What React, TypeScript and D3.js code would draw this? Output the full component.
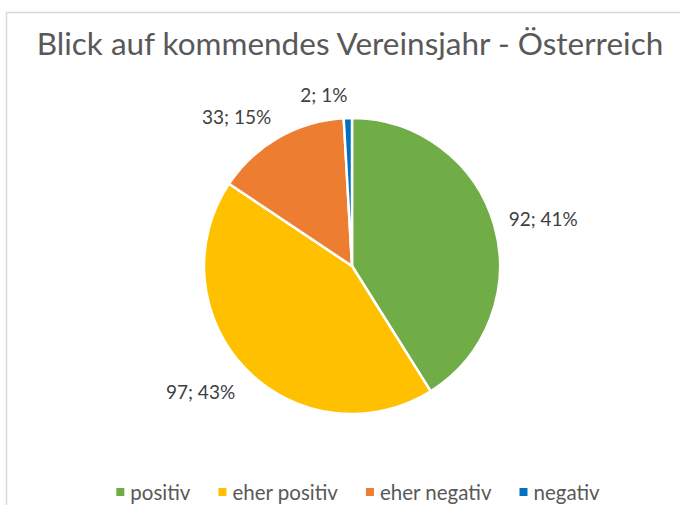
import React, { useEffect, useRef } from "react";
import * as d3 from "d3";

const title = "Blick auf kommendes Vereinsjahr - Österreich";
const categories = ["positiv", "eher positiv", "eher negativ", "negativ"];
const values = [92, 97, 33, 2];
const colors = ["#70AD47", "#FFC000", "#ED7D31", "#0070C0"];

const W = 680;
const H = 505;
const FONT = "Lato, 'Open Sans', sans-serif";

export default function App() {
  const ref = useRef<SVGSVGElement>(null);

  useEffect(() => {
    const svg = d3.select(ref.current);
    svg.selectAll("*").remove();

    svg.append("rect").attr("width", W).attr("height", H).attr("fill", "#fff");
    svg
      .append("rect")
      .attr("x", 6.5)
      .attr("y", 12.5)
      .attr("width", W + 20)
      .attr("height", H + 20)
      .attr("fill", "#fff")
      .attr("stroke", "#d9d9d9")
      .attr("stroke-width", 1.5);

    svg
      .append("text")
      .attr("x", 350)
      .attr("y", 55)
      .attr("text-anchor", "middle")
      .attr("font-family", FONT)
      .attr("font-size", 31.5)
      .attr("fill", "#595959")
      .text(title);

    const cx = 352;
    const cy = 266;
    const r = 148;
    const total = d3.sum(values);

    const pie = d3
      .pie<number>()
      .sort(null)
      .value((d) => d);
    const arcs = pie(values);
    const arc = d3.arc<d3.PieArcDatum<number>>().innerRadius(0).outerRadius(r);

    const g = svg.append("g").attr("transform", `translate(${cx},${cy})`);
    g.selectAll("path")
      .data(arcs)
      .join("path")
      .attr("d", arc as any)
      .attr("fill", (_, i) => colors[i])
      .attr("stroke", "#fff")
      .attr("stroke-width", 2.5)
      .attr("stroke-linejoin", "round");

    // labels
    arcs.forEach((a, i) => {
      const mid = (a.startAngle + a.endAngle) / 2;
      const dx = Math.sin(mid);
      const dy = -Math.cos(mid);
      const pct = Math.round((values[i] / total) * 100);
      const t = g
        .append("text")
        .attr("font-family", FONT)
        .attr("font-size", 19)
        .attr("fill", "#404040")
        .attr("text-anchor", "middle")
        .attr("dominant-baseline", "central")
        .text(`${values[i]}; ${pct}%`);
      const w = (t.node() as SVGTextElement).getComputedTextLength();
      const h = 18;
      const pr = r + 15;
      const x = pr * dx + (Math.sign(dx) * w) / 2;
      const y = pr * dy + (dy * h) / 2 + (dy > 0 ? 6 : 0);
      t.attr("x", x).attr("y", y);
    });

    // legend
    const lg = svg.append("g");
    const ly = 492;
    const items = categories.map((c, i) => {
      const t = lg
        .append("text")
        .attr("font-family", FONT)
        .attr("font-size", 20.5)
        .attr("fill", "#595959")
        .attr("dominant-baseline", "central")
        .attr("y", ly)
        .text(c);
      return { t, w: (t.node() as SVGTextElement).getComputedTextLength(), i };
    });
    const sq = 8;
    const gap1 = 6;
    const gap2 = 28;
    const totalW =
      d3.sum(items, (d) => sq + gap1 + d.w) + gap2 * (items.length - 1);
    let x = 358 - totalW / 2;
    items.forEach((d) => {
      lg.append("rect")
        .attr("x", x)
        .attr("y", ly - sq / 2)
        .attr("width", sq)
        .attr("height", sq)
        .attr("fill", colors[d.i]);
      d.t.attr("x", x + sq + gap1);
      x += sq + gap1 + d.w + gap2;
    });
  }, []);

  return (
    <svg
      ref={ref}
      width={W}
      height={H}
      style={{ position: "absolute", left: 0, top: 0 }}
    />
  );
}
